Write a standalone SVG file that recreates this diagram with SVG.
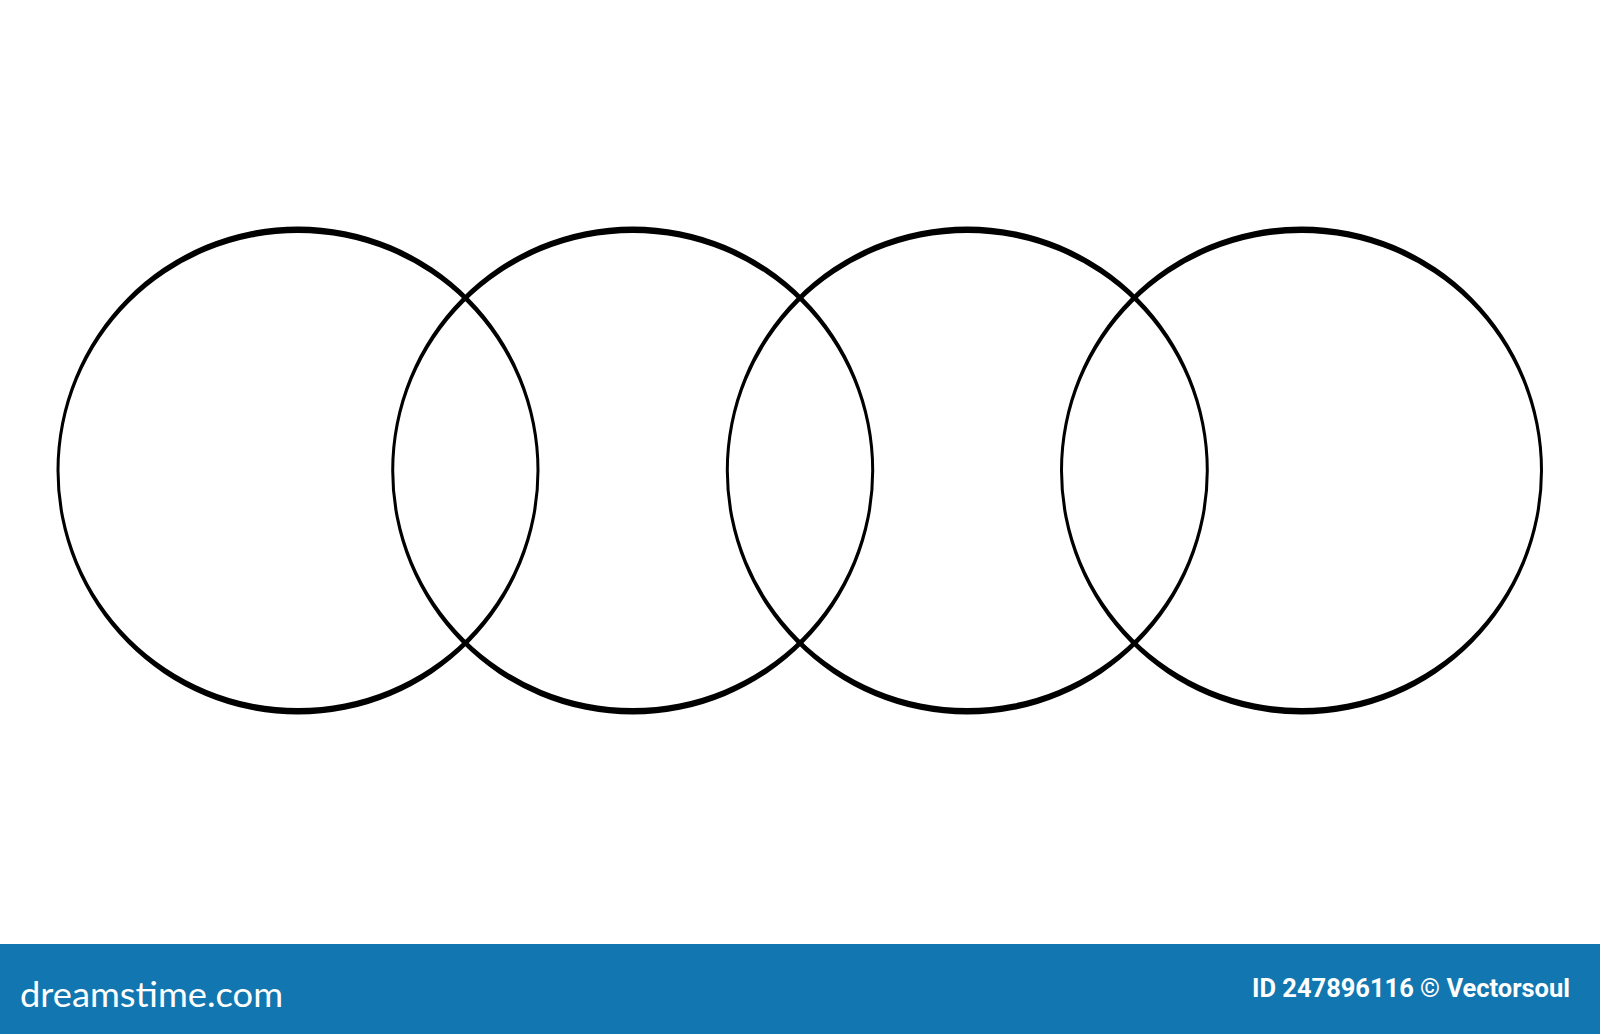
<svg xmlns="http://www.w3.org/2000/svg" width="1600" height="1034" viewBox="0 0 1600 1034">
<defs>
<style>
.ring{fill:#000;fill-rule:evenodd}
.brand{fill:#fff;font-family:"Lato","Liberation Sans",sans-serif;font-size:35px;font-weight:400}
.id{fill:#fff;font-family:Roboto,"Liberation Sans",sans-serif;font-size:25px;font-weight:700}
</style>
<path id="ringShape" d="M-241.5,0 A241.5,244 0 1,0 241.5,0 A241.5,244 0 1,0 -241.5,0 Z M-238.5,0 A238.5,237.5 0 1,0 238.5,0 A238.5,237.5 0 1,0 -238.5,0 Z"/>
</defs>
<rect width="1600" height="1034" fill="#fff"/>
<g id="circle1"><use href="#ringShape" class="ring" transform="translate(298,470.5)"/></g>
<g id="circle2"><use href="#ringShape" class="ring" transform="translate(632.7,470.5)"/></g>
<g id="circle3"><use href="#ringShape" class="ring" transform="translate(967.3,470.5)"/></g>
<g id="circle4"><use href="#ringShape" class="ring" transform="translate(1301.5,470.5)"/></g>
<g id="connectors"/>
<g id="banner">
<rect x="0" y="944" width="1600" height="90" fill="#1277B0"/>
<text class="brand" x="20" y="1007" textLength="263" lengthAdjust="spacingAndGlyphs">dreamstime.com</text>
<text class="id" x="1252" y="997" textLength="318" lengthAdjust="spacingAndGlyphs">ID 247896116 © Vectorsoul</text>
</g>
</svg>
